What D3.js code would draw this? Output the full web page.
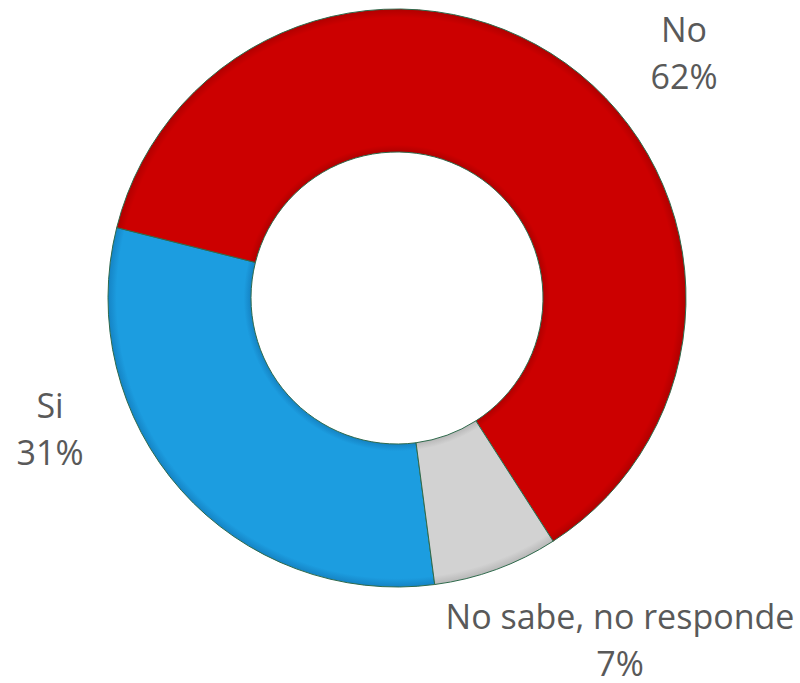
<!DOCTYPE html>
<html>
<head>
<meta charset="utf-8">
<script src="https://cdn.jsdelivr.net/npm/d3@7"></script>
<style>
  html, body { margin: 0; padding: 0; background: #fff; }
  svg { display: block; }
</style>
</head>
<body>
<svg id="chart" width="800" height="683"></svg>
<script>
// Survey answers and their shares (percent)
const categories = ["Si", "No", "No sabe, no responde"];
const values = [31, 62, 7];
const colors = ["#1c9de0", "#cc0000", "#d2d2d2"];
const darkColors = ["#1583c4", "#b00000", "#b8b8b8"];

const width = 800, height = 683;
const cx = 397, cy = 298;
const outerR = 289, innerR = 146;

const svg = d3.select("#chart");
const defs = svg.append("defs");

// Bevel-like radial shading per slice: a bit darker at the inner and outer rims
categories.forEach((c, i) => {
  const g = defs.append("radialGradient")
    .attr("id", "grad" + i)
    .attr("gradientUnits", "userSpaceOnUse")
    .attr("cx", 0).attr("cy", 0).attr("r", outerR);
  const f = innerR / outerR;
  g.append("stop").attr("offset", f).attr("stop-color", darkColors[i]);
  g.append("stop").attr("offset", f + 0.025).attr("stop-color", colors[i]);
  g.append("stop").attr("offset", 0.97).attr("stop-color", colors[i]);
  g.append("stop").attr("offset", 1).attr("stop-color", darkColors[i]);
});

const pie = d3.pie()
  .sort(null)
  .value(d => d)
  .startAngle(172.5 * Math.PI / 180)
  .endAngle((172.5 + 360) * Math.PI / 180);

const arc = d3.arc().innerRadius(innerR).outerRadius(outerR);

const g = svg.append("g").attr("transform", `translate(${cx},${cy})`);

g.selectAll("path.slice")
  .data(pie(values))
  .join("path")
  .attr("class", "slice")
  .attr("d", arc)
  .attr("fill", (d, i) => `url(#grad${i})`)
  .attr("stroke", "#2f6a4c")
  .attr("stroke-width", 1)
  .attr("stroke-linejoin", "round");

// Labels: category name above its percentage
const labelPos = [
  { x: 50, y: 418 },
  { x: 684, y: 42 },
  { x: 620, y: 629 }
];
const labels = svg.append("g")
  .attr("font-family", "'Open Sans', sans-serif")
  .attr("font-size", 34)
  .attr("fill", "#595959")
  .attr("text-anchor", "middle");

categories.forEach((c, i) => {
  const t = labels.append("text")
    .attr("x", labelPos[i].x)
    .attr("y", labelPos[i].y);
  t.append("tspan").attr("x", labelPos[i].x).text(c);
  t.append("tspan").attr("x", labelPos[i].x).attr("dy", 47).text(values[i] + "%");
});
</script>
</body>
</html>
